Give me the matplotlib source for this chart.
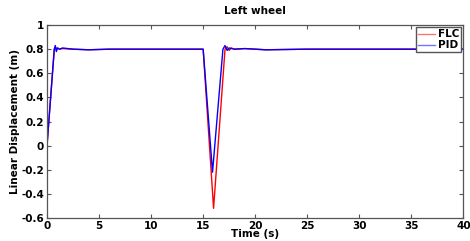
import matplotlib
matplotlib.use("Agg")
import matplotlib.pyplot as plt

t_pid = [0, 0.7, 0.8, 0.9, 1.0, 1.2, 1.5, 2.5, 4, 6, 10, 15.0, 15.9, 16.9, 17.1, 17.3, 17.5, 18, 19, 21, 25, 40]
y_pid = [0, 0.80, 0.83, 0.78, 0.81, 0.80, 0.81, 0.80, 0.795, 0.80, 0.80, 0.80, -0.22, 0.80, 0.83, 0.79, 0.81, 0.80, 0.805, 0.795, 0.80, 0.80]

t_flc = [0, 0.7, 0.8, 0.9, 1.0, 1.2, 1.5, 2.5, 4, 6, 10, 15.0, 16.0, 17.1, 17.3, 17.5, 17.7, 18, 19, 21, 25, 40]
y_flc = [0, 0.80, 0.82, 0.79, 0.81, 0.80, 0.805, 0.80, 0.795, 0.80, 0.80, 0.80, -0.52, 0.80, 0.82, 0.79, 0.81, 0.80, 0.805, 0.795, 0.80, 0.80]

xticks = [0, 5, 10, 15, 20, 25, 30, 35, 40]
yticks = [-0.6, -0.4, -0.2, 0, 0.2, 0.4, 0.6, 0.8, 1]
ytick_labels = ["-0.6", "-0.4", "-0.2", "0", "0.2", "0.4", "0.6", "0.8", "1"]

fig = plt.figure(figsize=(4.7, 2.41), dpi=100)
ax = fig.add_axes([0.1, 0.0954, 0.886, 0.8006])
ax.plot(t_flc, y_flc, color="#ff0000", lw=1.0, label="FLC")
ax.plot(t_pid, y_pid, color="#0000ff", lw=1.0, label="PID")
ax.set_xlim(0, 40)
ax.set_ylim(-0.6, 1)
ax.set_xticks(xticks)
ax.set_xticklabels([str(v) for v in xticks], fontweight="bold", fontsize=7.5)
ax.set_yticks(yticks)
ax.set_yticklabels(ytick_labels, fontweight="bold", fontsize=7.5)
ax.tick_params(direction="in", top=True, right=True, length=3, width=0.8, color="#555555", pad=2)
for s in ax.spines.values():
    s.set_color("#555555")
    s.set_linewidth(0.9)
ax.set_title("Left wheel", fontweight="bold", fontsize=7.5, pad=8)
ax.set_xlabel("Time (s)", fontweight="bold", fontsize=7.5, labelpad=-1)
ax.set_ylabel("Linear Displacement (m)", fontweight="bold", fontsize=7.5, labelpad=1)
leg = ax.legend(loc="upper right", prop={"weight": "bold", "size": 7.5},
                handlelength=1.6, handletextpad=0.3, borderpad=0.2, labelspacing=0.1,
                fancybox=False, framealpha=1, edgecolor="#555555", borderaxespad=0.2)
for line in leg.get_lines():
    line.set_alpha(0.55)
fig.savefig("out.png", dpi=100)
